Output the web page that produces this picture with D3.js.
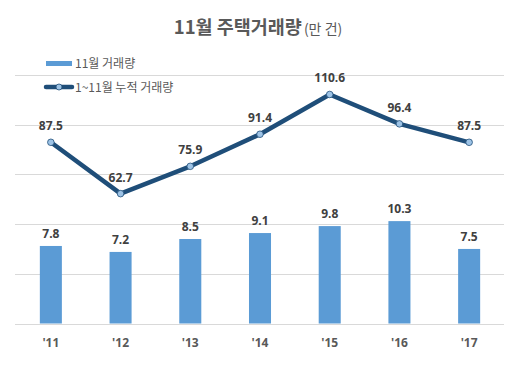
<!DOCTYPE html>
<html><head><meta charset="utf-8">
<script src="https://cdn.jsdelivr.net/npm/d3@7"></script>
<style>body{margin:0;background:#fff}svg{display:block}</style>
</head><body>
<script>
const categories = ["'11","'12","'13","'14","'15","'16","'17"];
const monthly = [7.8, 7.2, 8.5, 9.1, 9.8, 10.3, 7.5];
const cumulative = [87.5, 62.7, 75.9, 91.4, 110.6, 96.4, 87.5];
const barTicks = [0, 5, 10, 15, 20, 25];
const legendLabels = ["11월 거래량", "1~11월 누적 거래량"];

const W = 517, H = 370;
const svg = d3.select("body").append("svg").attr("width", W).attr("height", H);
const font = "'Noto Sans CJK KR', 'Noto Sans', sans-serif";
const numFont = "'Open Sans', 'Noto Sans', sans-serif";

const x = d3.scaleBand().domain(categories).range([16, 504]).paddingInner(0.684).paddingOuter(0.342);
const yBar = d3.scaleLinear().domain([0, 25]).range([323.5, 75]);
const yLine = d3.scaleLinear().domain([0, 120]).range([323.5, 75]);

// gridlines
svg.append("g").selectAll("line").data(barTicks).join("line")
  .attr("x1", 15).attr("x2", 504)
  .attr("y1", d => Math.round(yBar(d)) + 0.5).attr("y2", d => Math.round(yBar(d)) + 0.5)
  .attr("stroke", "#d9d9d9").attr("stroke-width", 1);

// bars
svg.append("g").selectAll("rect").data(monthly).join("rect")
  .attr("x", (d, i) => x(categories[i])).attr("width", x.bandwidth())
  .attr("y", d => yBar(d)).attr("height", d => yBar(0) - yBar(d))
  .attr("fill", "#5b9bd5");

// bar labels
svg.append("g").selectAll("text").data(monthly).join("text")
  .attr("x", (d, i) => x(categories[i]) + x.bandwidth() / 2)
  .attr("y", d => yBar(d) - 8)
  .attr("text-anchor", "middle").attr("font-family", numFont).attr("font-weight", "bold")
  .attr("font-size", 12).attr("fill", "#404040")
  .text(d => d.toFixed(1));

// line
const cx = i => x(categories[i]) + x.bandwidth() / 2;
svg.append("path").datum(cumulative)
  .attr("d", d3.line().x((d, i) => cx(i)).y(d => yLine(d)))
  .attr("fill", "none").attr("stroke", "#1f4e79").attr("stroke-width", 4.5)
  .attr("stroke-linejoin", "round");
svg.append("g").selectAll("circle").data(cumulative).join("circle")
  .attr("cx", (d, i) => cx(i)).attr("cy", d => yLine(d)).attr("r", 3.3)
  .attr("fill", "#9dc3e6").attr("stroke", "#1f4e79").attr("stroke-width", 0.8);
svg.append("g").selectAll("text").data(cumulative).join("text")
  .attr("x", (d, i) => cx(i)).attr("y", d => yLine(d) - 12)
  .attr("text-anchor", "middle").attr("font-family", numFont).attr("font-weight", "bold")
  .attr("font-size", 12).attr("fill", "#404040")
  .text(d => d.toFixed(1));

// x axis labels
svg.append("g").selectAll("text").data(categories).join("text")
  .attr("x", d => x(d) + x.bandwidth() / 2).attr("y", 347)
  .attr("text-anchor", "middle").attr("font-family", numFont).attr("font-weight", "bold")
  .attr("font-size", 12).attr("fill", "#595959")
  .text(d => d);

// title
const title = svg.append("text").attr("x", 258).attr("y", 34).attr("text-anchor", "middle")
  .attr("font-family", font).attr("fill", "#595959");
title.append("tspan").attr("font-size", 18.5).attr("font-weight", "bold").text("11월 주택거래량");
title.append("tspan").attr("font-size", 14).attr("dx", 2).text("(만 건)");

// legend
svg.append("rect").attr("x", 46).attr("y", 61).attr("width", 26).attr("height", 5).attr("fill", "#5b9bd5");
svg.append("text").attr("x", 75).attr("y", 68).attr("font-family", font).attr("font-size", 12)
  .attr("fill", "#595959").text(legendLabels[0]);
svg.append("line").attr("x1", 46).attr("x2", 72).attr("y1", 87).attr("y2", 87)
  .attr("stroke", "#1f4e79").attr("stroke-width", 4.5).attr("stroke-linecap", "round");
svg.append("circle").attr("cx", 59).attr("cy", 87).attr("r", 3)
  .attr("fill", "#9dc3e6").attr("stroke", "#1f4e79").attr("stroke-width", 0.8);
svg.append("text").attr("x", 75).attr("y", 91.5).attr("font-family", font).attr("font-size", 12)
  .attr("fill", "#595959").text(legendLabels[1]);
</script>
</body></html>
